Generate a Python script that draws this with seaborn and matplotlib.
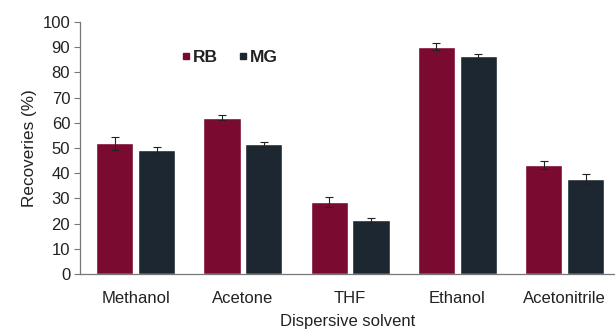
import matplotlib
matplotlib.use("Agg")
import matplotlib.pyplot as plt
import seaborn as sns
import pandas as pd
from matplotlib.lines import Line2D

solvents = ["Methanol", "Acetone", "THF", "Ethanol", "Acetonitrile"]
rb_values = [51.8, 62.0, 28.7, 90.2, 43.3]
mg_values = [49.2, 51.6, 21.4, 86.5, 37.6]
rb_errors = [2.5, 0.9, 2.0, 1.3, 1.7]
mg_errors = [1.3, 0.9, 0.7, 0.8, 2.0]
series = ["RB", "MG"]
y_ticks = [0, 10, 20, 30, 40, 50, 60, 70, 80, 90, 100]

colors = {"RB": "#7a0a2f", "MG": "#1c2732"}

df = pd.DataFrame({
    "solvent": solvents * 2,
    "series": ["RB"] * len(solvents) + ["MG"] * len(solvents),
    "value": rb_values + mg_values,
    "err": rb_errors + mg_errors,
})

sns.set_theme(style="white")
plt.rcParams["font.family"] = ["Liberation Sans", "DejaVu Sans"]

fig = plt.figure(figsize=(6.15, 3.31), dpi=100)
ax = fig.add_axes([0.130, 0.172, 0.870, 0.762])

sns.barplot(data=df, x="solvent", y="value", hue="series", order=solvents,
            hue_order=series, palette=colors, width=0.78, gap=0.11,
            saturation=1, errorbar=None, legend=False, ax=ax)

# error bars centred on each drawn bar
for name, container in zip(series, ax.containers):
    sub = df[df["series"] == name].set_index("solvent").loc[solvents]
    xs = [p.get_x() + p.get_width() / 2 for p in container.patches]
    ax.errorbar(xs, sub["value"].values, yerr=sub["err"].values, fmt="none",
                ecolor="#222222", elinewidth=0.8, capsize=3, capthick=0.8)

ax.set_ylim(0, 100)
ax.set_yticks(y_ticks)
ax.set_xlim(-0.52, 4.47)
ax.set_xlabel("Dispersive solvent", fontsize=12, color="#222222", labelpad=6)
ax.set_ylabel("Recoveries (%)", fontsize=12.3, color="#222222", labelpad=4)
ax.tick_params(axis="y", which="major", left=True, length=4, width=0.8,
               color="#777777", labelsize=12, labelcolor="#222222", pad=3)
ax.tick_params(axis="x", bottom=False, labelsize=12, labelcolor="#222222", pad=6)

for side in ["top", "right"]:
    ax.spines[side].set_visible(False)
for side in ["left", "bottom"]:
    ax.spines[side].set_color("#777777")
    ax.spines[side].set_linewidth(0.9)

handles = [Line2D([0], [0], marker="s", linestyle="none", markersize=5,
                  markerfacecolor=colors[s], markeredgecolor=colors[s]) for s in series]
leg = ax.legend(handles, series, loc="center left", bbox_to_anchor=(0.16, 0.86),
                ncol=2, frameon=False, handletextpad=0.1, columnspacing=1.1,
                handlelength=0.6, prop={"weight": "bold", "size": 12.5})
for t in leg.get_texts():
    t.set_color("#222222")

fig.savefig("out.png", dpi=100)
